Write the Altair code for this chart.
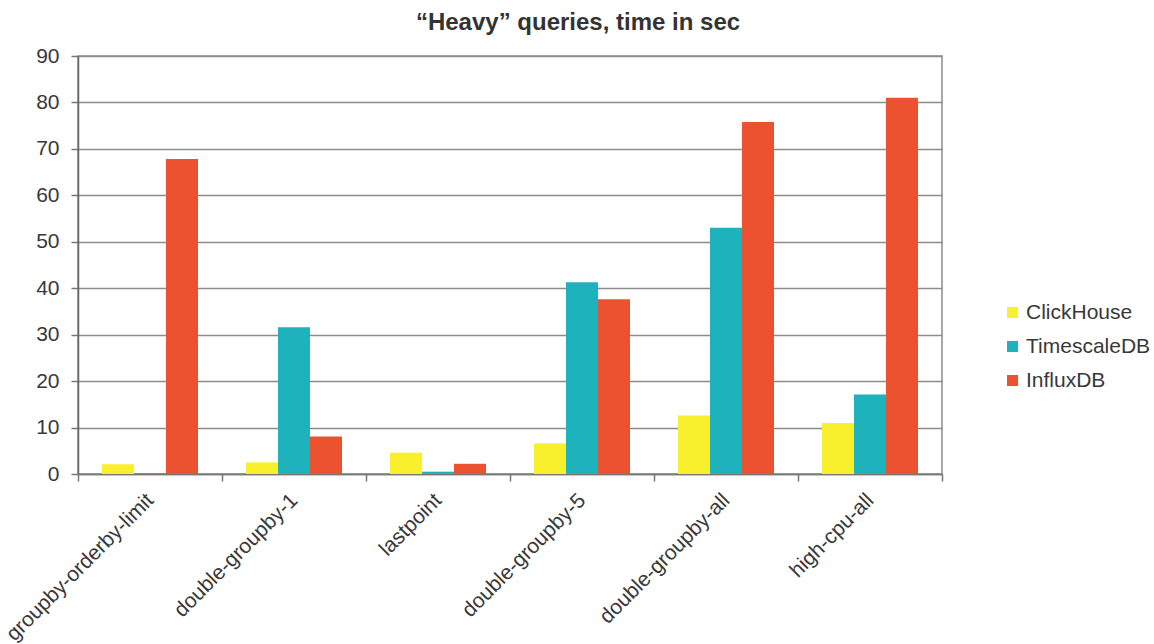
import altair as alt
import pandas as pd

queries = ["groupby-orderby-limit", "double-groupby-1", "lastpoint",
           "double-groupby-5", "double-groupby-all", "high-cpu-all"]
systems = ["ClickHouse", "TimescaleDB", "InfluxDB"]
clickhouse = [2.1, 2.5, 4.6, 6.6, 12.6, 11.0]
timescaledb = [0.2, 31.6, 0.5, 41.3, 53.0, 17.1]
influxdb = [67.8, 8.1, 2.2, 37.6, 75.8, 81.0]
colors = ["#F8F02C", "#1EB2BC", "#EC5230"]
y_ticks = [0, 10, 20, 30, 40, 50, 60, 70, 80, 90]

rows = []
for name, vals in zip(systems, [clickhouse, timescaledb, influxdb]):
    for q, v in zip(queries, vals):
        rows.append({"query": q, "system": name, "time": v})
df = pd.DataFrame(rows)

FONT = "Liberation Sans"

chart = alt.Chart(df).mark_bar().encode(
    x=alt.X("query:N", sort=queries, title=None,
            scale=alt.Scale(paddingInner=0, paddingOuter=0),
            axis=alt.Axis(labelAngle=-45, labelAlign="right", labelBaseline="middle",
                          tickBand="extent", labelFontSize=21, labelColor="#383838",
                          labelFont=FONT, tickColor="#777777", domainColor="#777777",
                          domainWidth=1.5, tickWidth=1.5, tickSize=7, labelPadding=16,
                          labelLimit=400, grid=False)),
    xOffset=alt.XOffset("system:N", sort=systems,
                        scale=alt.Scale(paddingInner=0, paddingOuter=0.75)),
    y=alt.Y("time:Q", title=None,
            scale=alt.Scale(domain=[0, 90], nice=False),
            axis=alt.Axis(values=y_ticks, labelFontSize=21, labelColor="#383838",
                          labelFont=FONT, tickColor="#777777", domainColor="#666666",
                          domainWidth=1.5, tickWidth=1.5, tickSize=7, labelPadding=12,
                          gridColor="#8c8c8c", gridWidth=1.5)),
    color=alt.Color("system:N", sort=systems,
                    scale=alt.Scale(domain=systems, range=colors),
                    legend=alt.Legend(title=None, orient="none", legendX=924, legendY=246,
                                      symbolType="square", symbolSize=121,
                                      symbolStrokeWidth=0, labelFontSize=21,
                                      labelFont=FONT, labelColor="#383838",
                                      rowPadding=12, labelOffset=3, padding=0)),
).properties(
    width=864,
    height=418,
    title=alt.TitleParams("\u201cHeavy\u201d queries, time in sec", fontSize=24,
                          font=FONT, fontWeight="bold", color="#333333",
                          anchor="middle", dx=68, offset=10),
    autosize=alt.AutoSizeParams(type="none"),
    padding={"left": 78, "top": 56, "right": 212, "bottom": 170},
).configure_view(stroke="#8c8c8c", strokeWidth=1.5)

chart.save("out.html", embed_options={"renderer": "svg", "actions": False})
